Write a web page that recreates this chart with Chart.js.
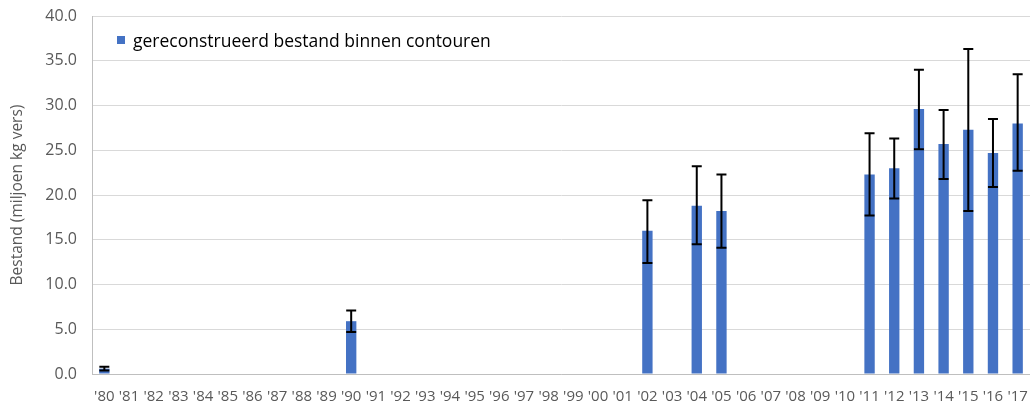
<!DOCTYPE html>
<html>
<head>
<meta charset="utf-8">
<script src="https://cdn.jsdelivr.net/npm/chart.js@4.4.0/dist/chart.umd.min.js"></script>
<style>
  html, body { margin: 0; padding: 0; background: #fff; }
  #wrap { position: relative; width: 1030px; height: 407px; }
  #legend {
    position: absolute; left: 117px; top: 28px;
    font-family: "Open Sans", sans-serif; font-size: 17.5px; color: #000;
    display: flex; align-items: center; white-space: nowrap;
  }
  #legend span.box { width: 8px; height: 8px; background: #4472C4; margin-right: 8px; display: inline-block; }
</style>
</head>
<body>
<div id="wrap">
  <canvas id="chart" width="1030" height="407"></canvas>
  <div id="legend"><span class="box"></span>gereconstrueerd bestand binnen contouren</div>
</div>
<script>
// jaren '80 t/m '17
const years = ["'80", "'81", "'82", "'83", "'84", "'85", "'86", "'87", "'88", "'89",
    "'90", "'91", "'92", "'93", "'94", "'95", "'96", "'97", "'98", "'99",
    "'00", "'01", "'02", "'03", "'04", "'05", "'06", "'07", "'08", "'09",
    "'10", "'11", "'12", "'13", "'14", "'15", "'16", "'17"];

// bestand (miljoen kg vers), null = geen schatting
const bestand = [0.6, null, null, null, null, null, null, null, null, null,
    5.9, null, null, null, null, null, null, null, null, null,
    null, null, 16.0, null, 18.8, 18.2, null, null, null, null,
    null, 22.3, 23.0, 29.6, 25.7, 27.3, 24.7, 28.0];

// onder- en bovengrens van het betrouwbaarheidsinterval
const errLow = [0.4, null, null, null, null, null, null, null, null, null,
    4.7, null, null, null, null, null, null, null, null, null,
    null, null, 12.4, null, 14.5, 14.1, null, null, null, null,
    null, 17.7, 19.6, 25.1, 21.8, 18.2, 20.9, 22.7];
const errHigh = [0.8, null, null, null, null, null, null, null, null, null,
    7.1, null, null, null, null, null, null, null, null, null,
    null, null, 19.4, null, 23.2, 22.3, null, null, null, null,
    null, 26.9, 26.3, 34.0, 29.5, 36.3, 28.5, 33.5];

const yTicks = [0, 5, 10, 15, 20, 25, 30, 35, 40];

// foutbalken tekenen via de schalen van de grafiek
const errorBars = {
    id: 'errorBars',
    afterDatasetsDraw(chart) {
        const ctx = chart.ctx;
        const meta = chart.getDatasetMeta(0);
        const y = chart.scales.y;
        ctx.save();
        ctx.strokeStyle = '#000';
        ctx.lineWidth = 2;
        meta.data.forEach((bar, i) => {
            if (errLow[i] == null || errHigh[i] == null) return;
            const x = bar.x;
            const yLo = y.getPixelForValue(errLow[i]);
            const yHi = y.getPixelForValue(errHigh[i]);
            const half = 5;
            ctx.beginPath();
            ctx.moveTo(x, yLo); ctx.lineTo(x, yHi);
            ctx.moveTo(x - half, yLo); ctx.lineTo(x + half, yLo);
            ctx.moveTo(x - half, yHi); ctx.lineTo(x + half, yHi);
            ctx.stroke();
        });
        ctx.restore();
    }
};

const ctx = document.getElementById('chart').getContext('2d');
new Chart(ctx, {
    type: 'bar',
    data: {
        labels: years,
        datasets: [{
            label: 'gereconstrueerd bestand binnen contouren',
            data: bestand,
            backgroundColor: '#4472C4',
            barPercentage: 0.42,
            categoryPercentage: 1.0
        }]
    },
    options: {
        responsive: false,
        animation: false,
        layout: { padding: { top: 16, right: 0, left: 0, bottom: 0 } },
        plugins: {
            legend: { display: false },
            tooltip: { enabled: false }
        },
        scales: {
            y: {
                min: 0,
                max: 40,
                afterFit(scale) {
                    scale.width = 92;
                    scale.paddingTop = 0;
                    scale.paddingBottom = 0;
                },
                afterBuildTicks(scale) { scale.ticks = yTicks.map(v => ({ value: v })); },
                title: {
                    display: true,
                    text: 'Bestand (miljoen kg vers)',
                    color: '#595959',
                    font: { family: 'Open Sans', size: 15.5 },
                    padding: { top: 8, bottom: 0 }
                },
                ticks: {
                    color: '#595959',
                    font: { family: 'Open Sans', size: 16 },
                    padding: 15,
                    callback: v => v.toFixed(1)
                },
                grid: { color: '#d9d9d9', drawTicks: false },
                border: { color: '#bfbfbf', width: 1 }
            },
            x: {
                afterFit(scale) {
                    scale.height = 33;
                    scale.paddingLeft = 0;
                    scale.paddingRight = 0;
                },
                ticks: {
                    color: '#595959',
                    font: { family: 'Open Sans', size: 15 },
                    autoSkip: false,
                    maxRotation: 0,
                    minRotation: 0,
                    padding: 14
                },
                grid: { display: false, drawTicks: false },
                border: { color: '#bfbfbf', width: 1 }
            }
        }
    },
    plugins: [errorBars]
});
</script>
</body>
</html>
